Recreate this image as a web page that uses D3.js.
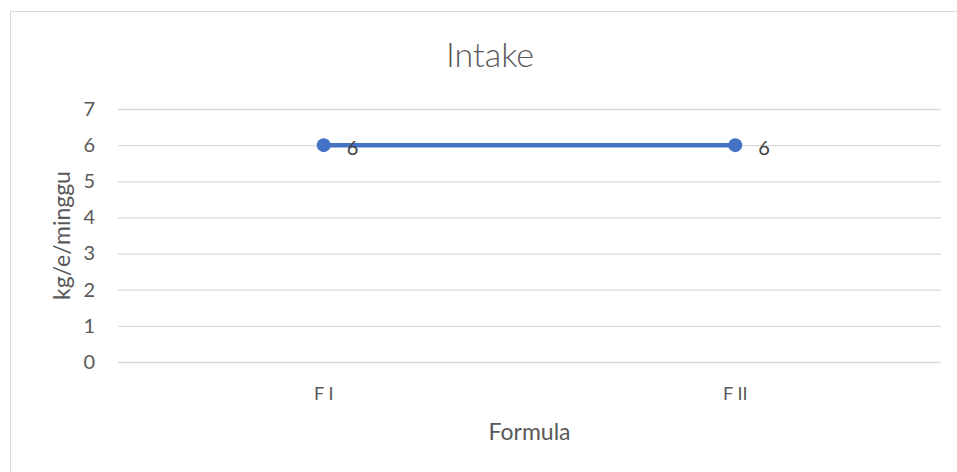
<!DOCTYPE html>
<html>
<head>
<meta charset="utf-8">
<script src="https://cdn.jsdelivr.net/npm/d3@7"></script>
<style>
  html, body { margin: 0; padding: 0; background: #fff; }
  svg { display: block; font-family: Lato, "Open Sans", "Liberation Sans", sans-serif; }
</style>
</head>
<body>
<svg id="chart" width="957" height="472"></svg>
<script>
// Chart data
const categories = ["F I", "F II"];
const intakeValues = [6, 6];
const yTicks = [0, 1, 2, 3, 4, 5, 6, 7];

const svg = d3.select("#chart");
const plot = { left: 118, right: 941, top: 109, bottom: 362 };
const FONT = "Lato, 'Open Sans', sans-serif";

// Outer chart frame
svg.append("rect")
  .attr("x", 10.5).attr("y", 11.5)
  .attr("width", 980).attr("height", 480)
  .attr("fill", "#fff").attr("stroke", "#d9d9d9").attr("stroke-width", 1);

const x = d3.scaleBand().domain(categories).range([plot.left, plot.right]);
const y = d3.scaleLinear().domain([0, 7]).range([plot.bottom, plot.top]);

// Horizontal gridlines + y tick labels
const yAxis = d3.axisLeft(y)
  .tickValues(yTicks)
  .tickFormat(d3.format("d"))
  .tickSize(-(plot.right - plot.left))
  .tickPadding(23);
const gy = svg.append("g").attr("transform", `translate(${plot.left},0)`).call(yAxis);
gy.select(".domain").remove();
gy.selectAll(".tick line").attr("stroke", "#d9d9d9").attr("stroke-width", 1.3);
gy.selectAll(".tick text").attr("fill", "#595959").attr("font-size", 20).attr("font-family", FONT);

// Category labels
const xAxis = d3.axisBottom(x).tickSize(0).tickPadding(0);
const gx = svg.append("g").attr("transform", `translate(0,${plot.bottom})`).call(xAxis);
gx.select(".domain").remove();
gx.selectAll(".tick text")
  .attr("dy", null).attr("y", 38)
  .attr("fill", "#595959").attr("font-size", 18).attr("font-family", FONT);

// Title
svg.append("text")
  .attr("x", 490).attr("y", 67)
  .attr("text-anchor", "middle")
  .attr("fill", "#595959").attr("font-size", 34).attr("font-weight", 300)
  .text("Intake");

// Axis titles
svg.append("text")
  .attr("transform", `translate(70,${(plot.top + plot.bottom) / 2}) rotate(-90)`)
  .attr("text-anchor", "middle")
  .attr("fill", "#595959").attr("font-size", 23)
  .text("kg/e/minggu");

svg.append("text")
  .attr("x", (plot.left + plot.right) / 2).attr("y", 440)
  .attr("text-anchor", "middle")
  .attr("fill", "#595959").attr("font-size", 23)
  .text("Formula");

// Series
const pts = categories.map((c, i) => ({ c, v: intakeValues[i] }));
const cx = d => x(d.c) + x.bandwidth() / 2;

svg.append("path")
  .datum(pts)
  .attr("fill", "none")
  .attr("stroke", "#4472c4")
  .attr("stroke-width", 4.5)
  .attr("stroke-linecap", "round")
  .attr("d", d3.line().x(cx).y(d => y(d.v)));

svg.selectAll("circle.pt")
  .data(pts).join("circle")
  .attr("class", "pt")
  .attr("cx", cx).attr("cy", d => y(d.v))
  .attr("r", 7)
  .attr("fill", "#4472c4");

// Data labels
svg.selectAll("text.lbl")
  .data(pts).join("text")
  .attr("class", "lbl")
  .attr("x", d => cx(d) + 23).attr("y", d => y(d.v) + 10)
  .attr("fill", "#404040").attr("font-size", 20)
  .text(d => d.v);
</script>
</body>
</html>
